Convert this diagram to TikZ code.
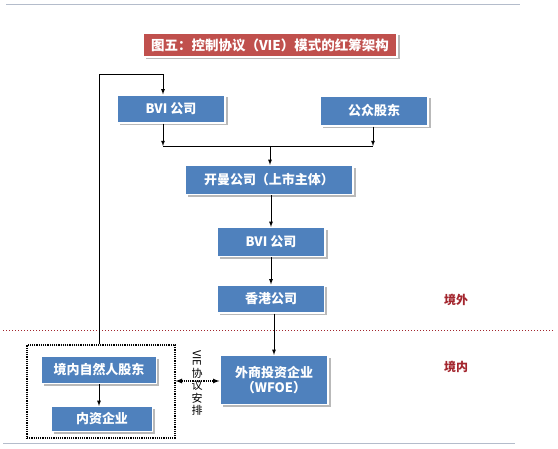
\documentclass[tikz,border=0pt]{standalone}
\usepackage{fontspec}
\setmainfont{Noto Sans CJK SC}
\usepackage{tikz}
\usepackage{xcolor}
\usetikzlibrary{positioning,shapes,shadows,arrows}

\definecolor{boxblue}{HTML}{4F81BD}
\definecolor{titlered}{HTML}{C0504D}
\definecolor{labelred}{HTML}{A3262E}
\definecolor{rulegray}{HTML}{B4BCCB}

\begin{document}
\begin{tikzpicture}[x=1pt,y=1pt]
\tikzstyle{every node}+=[inner sep=0pt]
\tikzstyle{bluebox}=[rectangle, fill=boxblue, draw=white, line width=1.2pt, text=white,
  font=\fontsize{13}{15}\selectfont\bfseries, align=center,
  drop shadow={shadow xshift=2.5pt, shadow yshift=-2.5pt, fill=gray!55, opacity=1}]
\tikzstyle{arr}=[-latex, black, line width=0.8pt]
\tikzstyle{side}=[text=labelred, font=\fontsize{12}{14}\selectfont\bfseries]
\useasboundingbox (0,0) rectangle (558,-449);
\draw [rulegray, line width=1pt] (6,-5) -- (520,-5);
\draw [rulegray, line width=1pt] (3,-444) -- (515,-444);
% title
\node [bluebox, fill=titlered, font=\fontsize{13.5}{15}\selectfont\bfseries,
  minimum width=254, minimum height=24] (title) at (270,-45) {图五：控制协议（VIE）模式的红筹架构};
% offshore
\node [bluebox, minimum width=108, minimum height=28] (bvi1) at (171,-109) {BVI 公司};
\node [bluebox, minimum width=108, minimum height=30] (public) at (374,-111) {公众股东};
\node [bluebox, minimum width=168, minimum height=29] (kaiman) at (269,-180) {开曼公司（上市主体）};
\node [bluebox, minimum width=108, minimum height=29] (bvi2) at (271,-242) {BVI 公司};
\node [bluebox, minimum width=107, minimum height=28] (hk) at (271,-299) {香港公司};
\node [side] (abroad) at (456,-300) {境外};
% border
\draw [labelred, line width=1pt, dotted] (3,-331) -- (553,-331);
% onshore
\node [side] (home) at (456,-367) {境内};
\node [bluebox, minimum width=108, minimum height=49] (wfoe) at (274,-380) {外商投资企业\\（WFOE）};
\node [rectangle, draw=black, line width=1.2pt, densely dotted,
  minimum width=148, minimum height=93] (grp) at (101,-391.5) {};
\node [bluebox, minimum width=115, minimum height=27] (person) at (99,-370) {境内自然人股东};
\node [bluebox, minimum width=101, minimum height=25] (neizi) at (102,-419) {内资企业};
\node [font=\fontsize{11}{12.5}\selectfont, align=center] (vie) at (197,-383)
  {\rotatebox{-90}{VIE}\\[1pt]协\\议\\安\\排};
% connectors
\coordinate (jl) at (163,-146);
\coordinate (jr) at (373,-146);
\coordinate (jm) at (270,-146);
\coordinate (loop) at (99,-74);
\draw [arr] (bvi1.south -| jl) -- (jl);
\draw [arr] (public.south -| jr) -- (jr);
\draw [black, line width=0.8pt] (jl) -- (jr);
\draw [arr] (jm) -- (kaiman.north -| jm);
\draw [arr] (kaiman.south -| bvi2) -- (bvi2.north);
\draw [arr] (bvi2) -- (hk);
\draw [arr] (hk.south -| wfoe) -- (wfoe.north);
\draw [arr] (person) -- (neizi.north -| person);
\draw [arr] (grp.north -| loop) -- (loop) -| (bvi1.north -| jl);
\draw [latex-latex, black, line width=1.2pt, densely dotted] (grp.east |- 0,-381) -- (wfoe.west |- 0,-381);
\end{tikzpicture}
\end{document}
